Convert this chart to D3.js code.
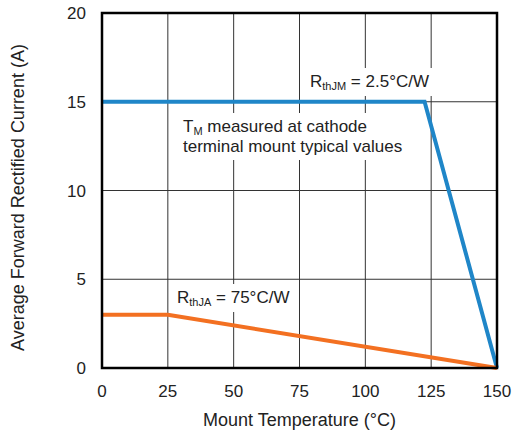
<!DOCTYPE html>
<html>
<head>
<meta charset="utf-8">
<script src="https://cdn.jsdelivr.net/npm/d3@7"></script>
<style>
  body { margin: 0; background: #fff; }
  text { font-family: "Liberation Sans", Arial, sans-serif; fill: #222; }
</style>
</head>
<body>
<div id="container"></div>
<script>
// values
let xTicks = [0, 25, 50, 75, 100, 125, 150];
let yTicks = [0, 5, 10, 15, 20];
let tempJM = [0, 122.5, 150];
let currentJM = [15, 15, 0];
let tempJA = [0, 25, 150];
let currentJA = [3, 3, 0];

let w = 512;
let h = 434;
let plotLeft = 102, plotRight = 497, plotTop = 13, plotBottom = 368;

let viz = d3.select("#container")
  .append("svg")
    .attr("width", w)
    .attr("height", h)
;

let xScale = d3.scaleLinear().domain([0, 150]).range([plotLeft, plotRight]);
let yScale = d3.scaleLinear().domain([0, 20]).range([plotBottom, plotTop]);

// grid
let grid = viz.append("g").attr("class", "grid");
grid.selectAll(".vgrid").data(xTicks).enter()
  .append("line")
    .attr("x1", d => xScale(d)).attr("x2", d => xScale(d))
    .attr("y1", plotTop).attr("y2", plotBottom)
    .attr("stroke", "#333").attr("stroke-width", 1)
;
grid.selectAll(".hgrid").data(yTicks).enter()
  .append("line")
    .attr("y1", d => yScale(d)).attr("y2", d => yScale(d))
    .attr("x1", plotLeft).attr("x2", plotRight)
    .attr("stroke", "#333").attr("stroke-width", 1)
;

// annotations with white boxes that hide the grid behind them
let notes = viz.append("g").attr("class", "notes");

function subLabel(x, y, main, sub, rest){
  let g = notes.append("g");
  g.append("rect").attr("fill", "white");
  let t = g.append("text").attr("x", x).attr("y", y).style("font-size", "17px");
  t.append("tspan").text(main);
  t.append("tspan").attr("dy", 3).style("font-size", "11px").text(sub);
  t.append("tspan").attr("dy", -3).text(rest);
  return g;
}

let jmLabel = subLabel(310, 87, "R", "thJM", " = 2.5°C/W");
let jaLabel = subLabel(177, 303, "R", "thJA", " = 75°C/W");

let tmLabel = notes.append("g");
tmLabel.append("rect").attr("fill", "white");
let tmText = tmLabel.append("text").attr("x", 183).attr("y", 132).style("font-size", "17px");
tmText.append("tspan").text("T");
tmText.append("tspan").attr("dy", 3).style("font-size", "11px").text("M");
tmText.append("tspan").attr("dy", -3).text(" measured at cathode");
tmLabel.append("text").attr("x", 183).attr("y", 152).style("font-size", "17px")
  .text("terminal mount typical values");

[jmLabel, jaLabel, tmLabel].forEach(function(g){
  let b = g.node().getBBox();
  g.select("rect")
    .attr("x", b.x - 6).attr("y", b.y - 4)
    .attr("width", b.width + 12).attr("height", b.height + 8);
});

// curves
let lineMaker = d3.line()
  .x(d => xScale(d[0]))
  .y(d => yScale(d[1]))
;

let graphGroup = viz.append("g").attr("class", "graphGroup");
graphGroup.append("path")
  .datum(d3.zip(tempJM, currentJM))
  .attr("d", lineMaker)
  .attr("fill", "none")
  .attr("stroke", "#1f86c8")
  .attr("stroke-width", 4)
;
graphGroup.append("path")
  .datum(d3.zip(tempJA, currentJA))
  .attr("d", lineMaker)
  .attr("fill", "none")
  .attr("stroke", "#f37021")
  .attr("stroke-width", 4)
;

// frame
viz.append("rect")
  .attr("x", plotLeft).attr("y", plotTop)
  .attr("width", plotRight - plotLeft).attr("height", plotBottom - plotTop)
  .attr("fill", "none").attr("stroke", "#000").attr("stroke-width", 2.5)
;

// tick labels
viz.selectAll(".xlabel").data(xTicks).enter()
  .append("text")
    .attr("x", d => xScale(d))
    .attr("y", 397)
    .attr("text-anchor", "middle")
    .style("font-size", "17px")
    .text(d => d)
;
viz.selectAll(".ylabel").data(yTicks).enter()
  .append("text")
    .attr("x", 86)
    .attr("y", d => yScale(d) + 6)
    .attr("text-anchor", "end")
    .style("font-size", "17px")
    .text(d => d)
;

// axis titles
viz.append("text")
  .attr("x", (plotLeft + plotRight) / 2)
  .attr("y", 426)
  .attr("text-anchor", "middle")
  .style("font-size", "18px")
  .text("Mount Temperature (°C)")
;
viz.append("text")
  .attr("transform", "translate(24," + ((plotTop + plotBottom) / 2 + 7) + ") rotate(-90)")
  .attr("text-anchor", "middle")
  .style("font-size", "18px")
  .text("Average Forward Rectified Current (A)")
;
</script>
</body>
</html>
